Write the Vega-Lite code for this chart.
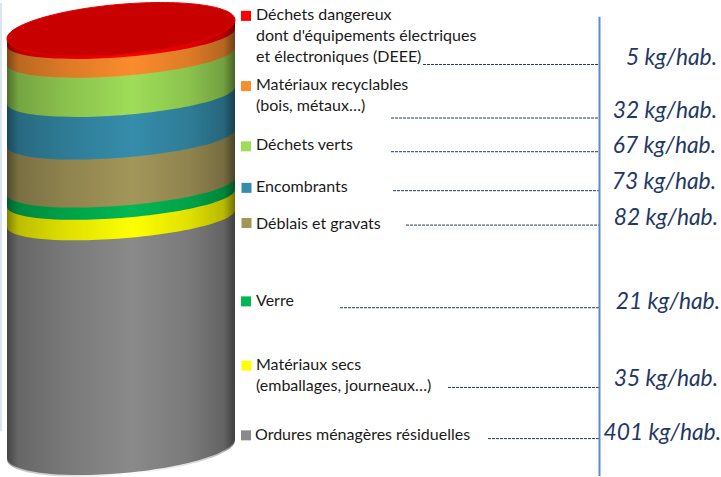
{
"$schema":"https://vega.github.io/schema/vega-lite/v6.json",
"width":721,"height":477,"padding":0,"autosize":{"type":"fit","contains":"padding"},
"background":"white",
"config":{"view":{"stroke":null}},
"datasets":{
"bands":[
{"band":"Matériaux secs","low":401,"kg":35},
{"band":"Verre","low":436,"kg":21},
{"band":"Déblais et gravats","low":457,"kg":82},
{"band":"Encombrants","low":539,"kg":73},
{"band":"Déchets verts","low":612,"kg":67},
{"band":"Matériaux recyclables","low":679,"kg":32},
{"band":"Déchets dangereux","low":711,"kg":5}
],
"sides":[
{"band":"Ordures ménagères résiduelles","x":7,"a":-16,"b":378},{"band":"Ordures ménagères résiduelles","x":235,"a":16,"b":407},
{"band":"Matériaux secs","x":7,"a":378,"b":413},{"band":"Matériaux secs","x":235,"a":407,"b":442},
{"band":"Verre","x":7,"a":413,"b":434},{"band":"Verre","x":235,"a":442,"b":463},
{"band":"Déblais et gravats","x":7,"a":434,"b":516},{"band":"Déblais et gravats","x":235,"a":463,"b":545},
{"band":"Encombrants","x":7,"a":516,"b":589},{"band":"Encombrants","x":235,"a":545,"b":618},
{"band":"Déchets verts","x":7,"a":589,"b":656},{"band":"Déchets verts","x":235,"a":618,"b":685},
{"band":"Matériaux recyclables","x":7,"a":656,"b":688},{"band":"Matériaux recyclables","x":235,"a":685,"b":717},
{"band":"Déchets dangereux","x":7,"a":688,"b":700},{"band":"Déchets dangereux","x":235,"a":717,"b":732}
],
"swatches":[
{"band":"Déchets dangereux","x":246,"y":739},
{"band":"Matériaux recyclables","x":246,"y":619},
{"band":"Déchets verts","x":246,"y":516},
{"band":"Encombrants","x":246.5,"y":445},
{"band":"Déblais et gravats","x":246.5,"y":385},
{"band":"Verre","x":246,"y":251},
{"band":"Matériaux secs","x":246.5,"y":141},
{"band":"Ordures ménagères résiduelles","x":246,"y":22}
],
"labels":[
{"t":"Déchets dangereux","x":256,"y":740},
{"t":"dont d'équipements électriques","x":256,"y":704.4},
{"t":"et électroniques (DEEE)","x":256,"y":668.8},
{"t":"Matériaux recyclables","x":256,"y":621.3},
{"t":"(bois, métaux…)","x":256,"y":585.7},
{"t":"Déchets verts","x":256,"y":517.9},
{"t":"Encombrants","x":256,"y":446.8},
{"t":"Déblais et gravats","x":256,"y":384},
{"t":"Verre","x":256,"y":251.8},
{"t":"Matériaux secs","x":256,"y":141.7},
{"t":"(emballages, journeaux…)","x":256,"y":106.1},
{"t":"Ordures ménagères résiduelles","x":255,"y":23}
],
"values":[
{"t":"5 kg/hab.","x":717,"y":667.8},
{"t":"32 kg/hab.","x":717,"y":576.3},
{"t":"67 kg/hab.","x":716,"y":516.9},
{"t":"73 kg/hab.","x":716,"y":454.2},
{"t":"82 kg/hab.","x":718,"y":393.2},
{"t":"21 kg/hab.","x":720,"y":249.2},
{"t":"35 kg/hab.","x":718,"y":118.6},
{"t":"401 kg/hab.","x":721,"y":25.4}
],
"leaders":[
{"x":423,"x2":599,"y":655.9},
{"x":391,"x2":599,"y":564.4},
{"x":391,"x2":599,"y":506.8},
{"x":393,"x2":599,"y":440.2},
{"x":406,"x2":599,"y":381.4},
{"x":340,"x2":599,"y":240.1},
{"x":448,"x2":599,"y":103.9},
{"x":488,"x2":599,"y":16.4}
]
},
"layer":[
{"data":{"values":[{"x":1,"y":761,"y2":29}]},
 "mark":{"type":"rule","color":"#dbe5f0","strokeWidth":2},
 "encoding":{"x":{"field":"x","type":"quantitative","scale":{"domain":[0,721],"nice":false,"zero":false},"axis":null},
  "y":{"field":"y","type":"quantitative","scale":{"domain":[-47.5,761],"nice":false,"zero":false},"axis":null},"y2":{"field":"y2"}}},
{"data":{"name":"sides"},
 "mark":{"type":"area"},
 "encoding":{"x":{"field":"x","type":"quantitative"},
  "y":{"field":"a","type":"quantitative","stack":null},"y2":{"field":"b"},
  "color":{"field":"band","type":"nominal","legend":null,"scale":{"domain":["Ordures ménagères résiduelles","Matériaux secs","Verre","Déblais et gravats","Encombrants","Déchets verts","Matériaux recyclables","Déchets dangereux"],"range":["#8a8a8a","#ffff00","#00b853","#a39659","#358dab","#9edd58","#fb8c2c","#ff0000"]}}}},
{"data":{"values":[{"band":"Ordures ménagères résiduelles","low":0,"kg":401}]},
 "mark":{"type":"point","filled":true,"opacity":1,"strokeWidth":0,"size":51984,"shape":"M1,-.083C1,.0385,.5523,.1742,0,.22C-.5523,.2658,-1,.2045,-1,.083C-1,-.0385,-.5523,-.1742,0,-.22C.5523,-.2658,1,-.2045,1,-.083Z"},
 "encoding":{"x":{"datum":121,"type":"quantitative"},
  "y":{"field":"low","type":"quantitative"},
  "color":{"field":"band","type":"nominal"}}},
{"data":{"name":"bands"},
 "mark":{"type":"point","filled":true,"opacity":1,"strokeWidth":0,"size":51984,"shape":"M1,-.031C1,.0657,.5523,.1776,0,.219C-.5523,.2604,-1,.2157,-1,.119C-1,.0223,-.5523,-.0896,0,-.131C.5523,-.1724,1,-.1277,1,-.031Z"},
 "encoding":{"x":{"datum":121,"type":"quantitative"},
  "y":{"field":"low","type":"quantitative"},
  "color":{"field":"band","type":"nominal"}}},
{"data":{"values":[{"mid":358.5}]},
 "mark":{"type":"point","filled":true,"opacity":1,"strokeWidth":0,"size":51984,
  "shape":"M-1,-1.776L1,-1.943L1,1.772C1,1.8935,.5523,2.0292,0,2.075C-.5523,2.1208,-1,2.0595,-1,1.938Z",
  "fill":{"gradient":"linear","x1":0,"y1":0,"x2":1,"y2":0,"stops":[
   {"offset":0,"color":"rgba(0,0,0,0.5)"},
   {"offset":0.05,"color":"rgba(0,0,0,0.26)"},
   {"offset":0.25,"color":"rgba(0,0,0,0.13)"},
   {"offset":0.55,"color":"rgba(0,0,0,0)"},
   {"offset":0.8,"color":"rgba(0,0,0,0.12)"},
   {"offset":0.95,"color":"rgba(0,0,0,0.28)"},
   {"offset":1,"color":"rgba(0,0,0,0.55)"}]}},
 "encoding":{"x":{"datum":121,"type":"quantitative"},"y":{"field":"mid","type":"quantitative"}}},
{"data":{"values":[{"top":716}]},
 "mark":{"type":"point","filled":true,"opacity":1,"fill":"#c90000","stroke":"#e60000","strokeWidth":1,"size":51984,"shape":"M1,-.083C1,.0385,.5523,.1742,0,.22C-.5523,.2658,-1,.2045,-1,.083C-1,-.0385,-.5523,-.1742,0,-.22C.5523,-.2658,1,-.2045,1,-.083Z"},
 "encoding":{"x":{"datum":121,"type":"quantitative"},"y":{"field":"top","type":"quantitative"}}},
{"data":{"name":"swatches"},
 "mark":{"type":"point","shape":"square","filled":true,"opacity":1,"size":100,"strokeWidth":0},
 "encoding":{"x":{"field":"x","type":"quantitative"},"y":{"field":"y","type":"quantitative"},"color":{"field":"band","type":"nominal"}}},
{"data":{"name":"labels"},
 "mark":{"type":"text","align":"left","baseline":"middle","font":"Lato","fontSize":16,"color":"#1a1a1a"},
 "encoding":{"x":{"field":"x","type":"quantitative"},"y":{"field":"y","type":"quantitative"},"text":{"field":"t"}}},
{"data":{"name":"values"},
 "mark":{"type":"text","align":"right","baseline":"middle","font":"Lato","fontStyle":"italic","fontSize":22.8,"color":"#1f3864"},
 "encoding":{"x":{"field":"x","type":"quantitative"},"y":{"field":"y","type":"quantitative"},"text":{"field":"t"}}},
{"data":{"name":"leaders"},
 "mark":{"type":"rule","color":"#1f3864","strokeWidth":1,"strokeDash":[3,1]},
 "encoding":{"x":{"field":"x","type":"quantitative"},"x2":{"field":"x2"},"y":{"field":"y","type":"quantitative"}}},
{"data":{"values":[{"x":599.5,"y":737.3,"y2":-47.5}]},
 "mark":{"type":"rule","color":"#5b8ccb","strokeWidth":2},
 "encoding":{"x":{"field":"x","type":"quantitative"},"y":{"field":"y","type":"quantitative"},"y2":{"field":"y2"}}}
]
}
